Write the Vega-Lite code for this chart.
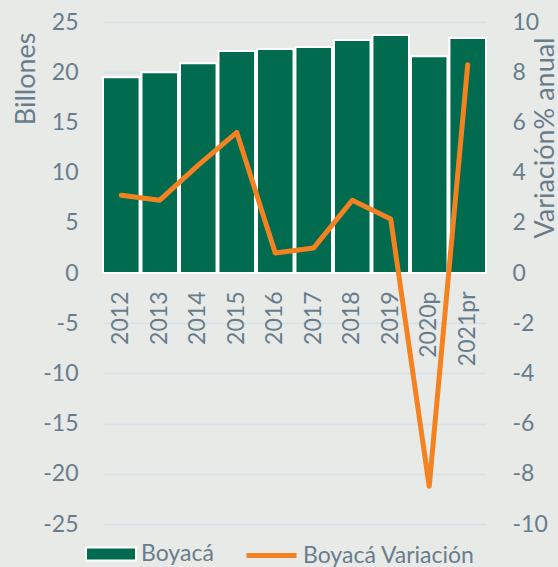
{
  "$schema": "https://vega.github.io/schema/vega-lite/v6.json",
  "width": 383,
  "height": 502,
  "autosize": {"type": "none"},
  "padding": {"left": 103, "top": 22, "right": 72, "bottom": 43},
  "background": "#e8eae7",
  "config": {
    "font": "Lato",
    "view": {"stroke": null},
    "axis": {"labelColor": "#687d8c", "titleColor": "#687d8c", "labelFontSize": 23, "titleFontSize": 27, "titleFontWeight": "normal", "domain": false, "ticks": false, "tickSize": 0, "labelExpr": "replace(datum.label, '−', '-')"},
    "legend": {"padding": 0, "labelFontSize": 23, "labelColor": "#687d8c", "labelLimit": 400, "symbolSize": 2500, "symbolOpacity": 1}
  },
  "data": {
    "values": [
      {"year": "2012", "valor": 19.5, "var": 3.1},
      {"year": "2013", "valor": 20.0, "var": 2.9},
      {"year": "2014", "valor": 20.9, "var": 4.3},
      {"year": "2015", "valor": 22.1, "var": 5.6},
      {"year": "2016", "valor": 22.3, "var": 0.8},
      {"year": "2017", "valor": 22.5, "var": 1.0},
      {"year": "2018", "valor": 23.2, "var": 2.9},
      {"year": "2019", "valor": 23.7, "var": 2.15},
      {"year": "2020p", "valor": 21.6, "var": -8.5},
      {"year": "2021pr", "valor": 23.4, "var": 8.3}
    ]
  },
  "encoding": {
    "x": {
      "field": "year", "type": "nominal", "sort": null,
      "scale": {"paddingInner": 0.05, "paddingOuter": 0},
      "axis": {"title": null, "labelAngle": -90, "offset": -251, "labelPadding": 18, "grid": false}
    }
  },
  "layer": [
    {
      "mark": {"type": "bar", "stroke": "white", "strokeWidth": 2},
      "encoding": {
        "y": {
          "field": "valor", "type": "quantitative",
          "scale": {"domain": [-25, 25], "nice": false},
          "axis": {"title": "Billones", "values": [-25, -20, -15, -10, -5, 0, 5, 10, 15, 20, 25], "grid": true, "gridColor": "#d6e0e5", "gridWidth": 1.5, "labelPadding": 25, "titleAngle": 270, "titleX": -77, "titleY": 10, "titleAlign": "right", "titleBaseline": "middle"}
        },
        "fill": {
          "datum": "Boyacá",
          "scale": {"range": ["#006b4f"]},
          "legend": {
            "title": null, "orient": "none", "legendX": -18, "legendY": 506,
            "labelOffset": 4,
            "symbolType": "M-1,-0.26H1V0.26H-1Z",
            "symbolStrokeColor": "white", "symbolStrokeWidth": 2
          }
        }
      }
    },
    {
      "mark": {"type": "line", "strokeWidth": 5, "strokeCap": "round", "strokeJoin": "round"},
      "encoding": {
        "y": {
          "field": "var", "type": "quantitative",
          "scale": {"domain": [-10, 10], "nice": false},
          "axis": {"title": "Variación% anual", "orient": "right", "values": [-10, -8, -6, -4, -2, 0, 2, 4, 6, 8, 10], "grid": false, "labelPadding": 26, "titleAngle": 270, "titleX": 59, "titleY": 15, "titleAlign": "right", "titleBaseline": "middle"}
        },
        "stroke": {
          "datum": "Boyacá Variación",
          "scale": {"range": ["#f58220"]},
          "legend": {
            "title": null, "orient": "none", "legendX": 141, "legendY": 506,
            "labelOffset": 4,
            "symbolType": "M-1,0H1", "symbolStrokeWidth": 5
          }
        }
      }
    }
  ],
  "resolve": {"scale": {"y": "independent"}}
}
